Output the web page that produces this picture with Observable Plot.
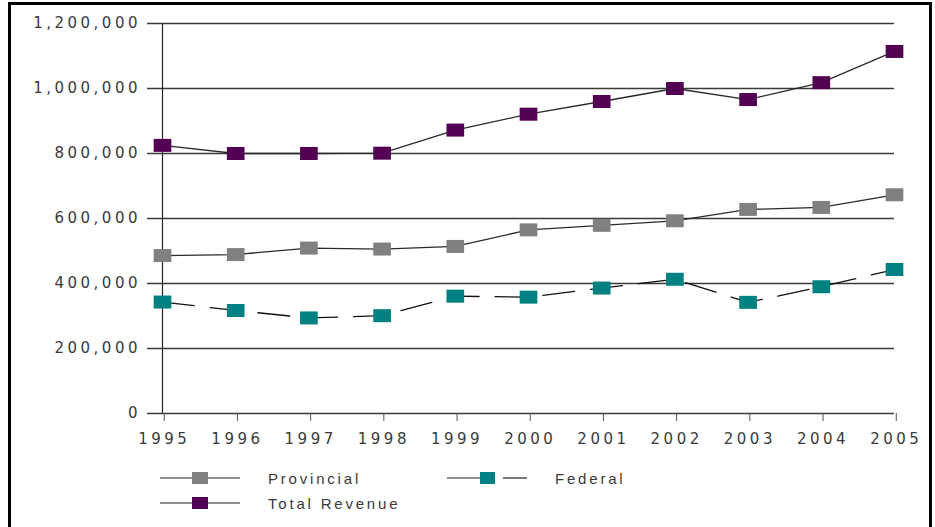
<!DOCTYPE html>
<html><head><meta charset="utf-8">
<script src="https://cdn.jsdelivr.net/npm/d3@7"></script>
<script src="https://cdn.jsdelivr.net/npm/@observablehq/plot@0.6"></script>
<style>
html,body{margin:0;padding:0;background:#fff;overflow:hidden;}
body{width:935px;height:527px;position:relative;font-family:"Liberation Sans",Arial,sans-serif;}
#frame{position:absolute;left:8px;top:2px;width:918px;height:600px;border:3px solid #000;pointer-events:none;}
#chart{position:absolute;left:0;top:0;}
#legend{position:absolute;left:0;top:455px;}
</style></head><body>
<div id="chart"></div>
<div id="legend"></div>
<div id="frame"></div>
<script>
const years = [1995, 1996, 1997, 1998, 1999, 2000, 2001, 2002, 2003, 2004, 2005];
const provincial = [486000, 489000, 509000, 506000, 514000, 565000, 579000, 593000, 628000, 634000, 673000];
const federal = [343000, 317000, 294000, 301000, 361000, 358000, 386000, 413000, 342000, 390000, 443000];
const totalRevenue = [825000, 800000, 800000, 801000, 872000, 921000, 960000, 1000000, 966000, 1018000, 1114000];
const seriesNames = ["Provincial", "Federal", "Total Revenue"];
const seriesColors = ["#808080", "#008080", "#520052"];
const yTicks = [0, 200000, 400000, 600000, 800000, 1000000, 1200000];

const seriesValues = [provincial, federal, totalRevenue];
const rows = seriesNames.flatMap((s, k) => years.map((yr, i) => ({year: yr, value: seriesValues[k][i], series: s})));

// rectangular marker symbol
const rectSymbol = {
  draw(ctx, size) {
    const r = Math.sqrt(size / Math.PI);
    const w = r * 1.36, h = r;
    ctx.moveTo(-w, -h); ctx.lineTo(w, -h); ctx.lineTo(w, h); ctx.lineTo(-w, h); ctx.closePath();
  }
};

const LS = 3.5;
const chart = Plot.plot({
  width: 935,
  height: 460,
  marginLeft: 162,
  marginRight: 41,
  marginTop: 23,
  marginBottom: 47,
  style: {fontFamily: '"DejaVu Sans", sans-serif', fontSize: "15px", letterSpacing: LS + "px", background: "transparent"},
  x: {domain: [1995, 2005], axis: null},
  y: {domain: [0, 1200000], axis: null},
  color: {domain: seriesNames, range: seriesColors},
  marks: [
    Plot.ruleY(yTicks, {stroke: "#3a3a3a", strokeWidth: 1.3, insetLeft: -15}),
    Plot.ruleX([years[0]], {stroke: "#222", strokeWidth: 1.2}),
    Plot.axisX(years, {label: null, tickSize: 8, tickPadding: 12, tickFormat: d => String(d), stroke: "#555", fill: "#3a3a3a", fontSize: 15, dx: LS / 2}),
    Plot.axisY(yTicks, {label: null, tickSize: 0, tickPadding: 25 - LS, tickFormat: d3.format(","), fill: "#3a3a3a", fontSize: 15}),
    Plot.line(rows.filter(d => d.series !== "Federal"), {x: "year", y: "value", z: "series", stroke: "#2a2a2a", strokeWidth: 1.3}),
    Plot.line(rows.filter(d => d.series === "Federal"), {x: "year", y: "value", stroke: "#111", strokeWidth: 1.3, strokeDasharray: "32,16"}),
    Plot.dot(rows, {x: "year", y: "value", fill: "series", symbol: rectSymbol, r: 6.5, stroke: "none"})
  ]
});
document.getElementById("chart").appendChild(chart);

// legend
const legendItems = [
  {name: seriesNames[0], color: seriesColors[0], x: 160, y: 23, dashed: false, tx: 268},
  {name: seriesNames[1], color: seriesColors[1], x: 447, y: 23, dashed: true, tx: 555},
  {name: seriesNames[2], color: seriesColors[2], x: 160, y: 48, dashed: false, tx: 268}
];
const lsvg = d3.select("#legend").append("svg").attr("width", 935).attr("height", 72)
  .style("font-family", '"Liberation Sans", Arial, sans-serif').style("font-size", "15px").style("letter-spacing", "2.8px");
for (const it of legendItems) {
  const g = lsvg.append("g");
  if (!it.dashed) {
    g.append("line").attr("x1", it.x).attr("x2", it.x + 80).attr("y1", it.y).attr("y2", it.y).attr("stroke", "#222").attr("stroke-width", 1.2);
    g.append("rect").attr("x", it.x + 32).attr("y", it.y - 6).attr("width", 16).attr("height", 12).attr("fill", it.color);
  } else {
    g.append("line").attr("x1", it.x).attr("x2", it.x + 33).attr("y1", it.y).attr("y2", it.y).attr("stroke", "#222").attr("stroke-width", 1.2);
    g.append("rect").attr("x", it.x + 33).attr("y", it.y - 6).attr("width", 15).attr("height", 12).attr("fill", it.color);
    g.append("line").attr("x1", it.x + 56).attr("x2", it.x + 80).attr("y1", it.y).attr("y2", it.y).attr("stroke", "#222").attr("stroke-width", 1.2);
  }
  g.append("text").attr("x", it.tx).attr("y", it.y + 6).attr("fill", "#3a3a3a").text(it.name);
}
</script>
</body></html>
